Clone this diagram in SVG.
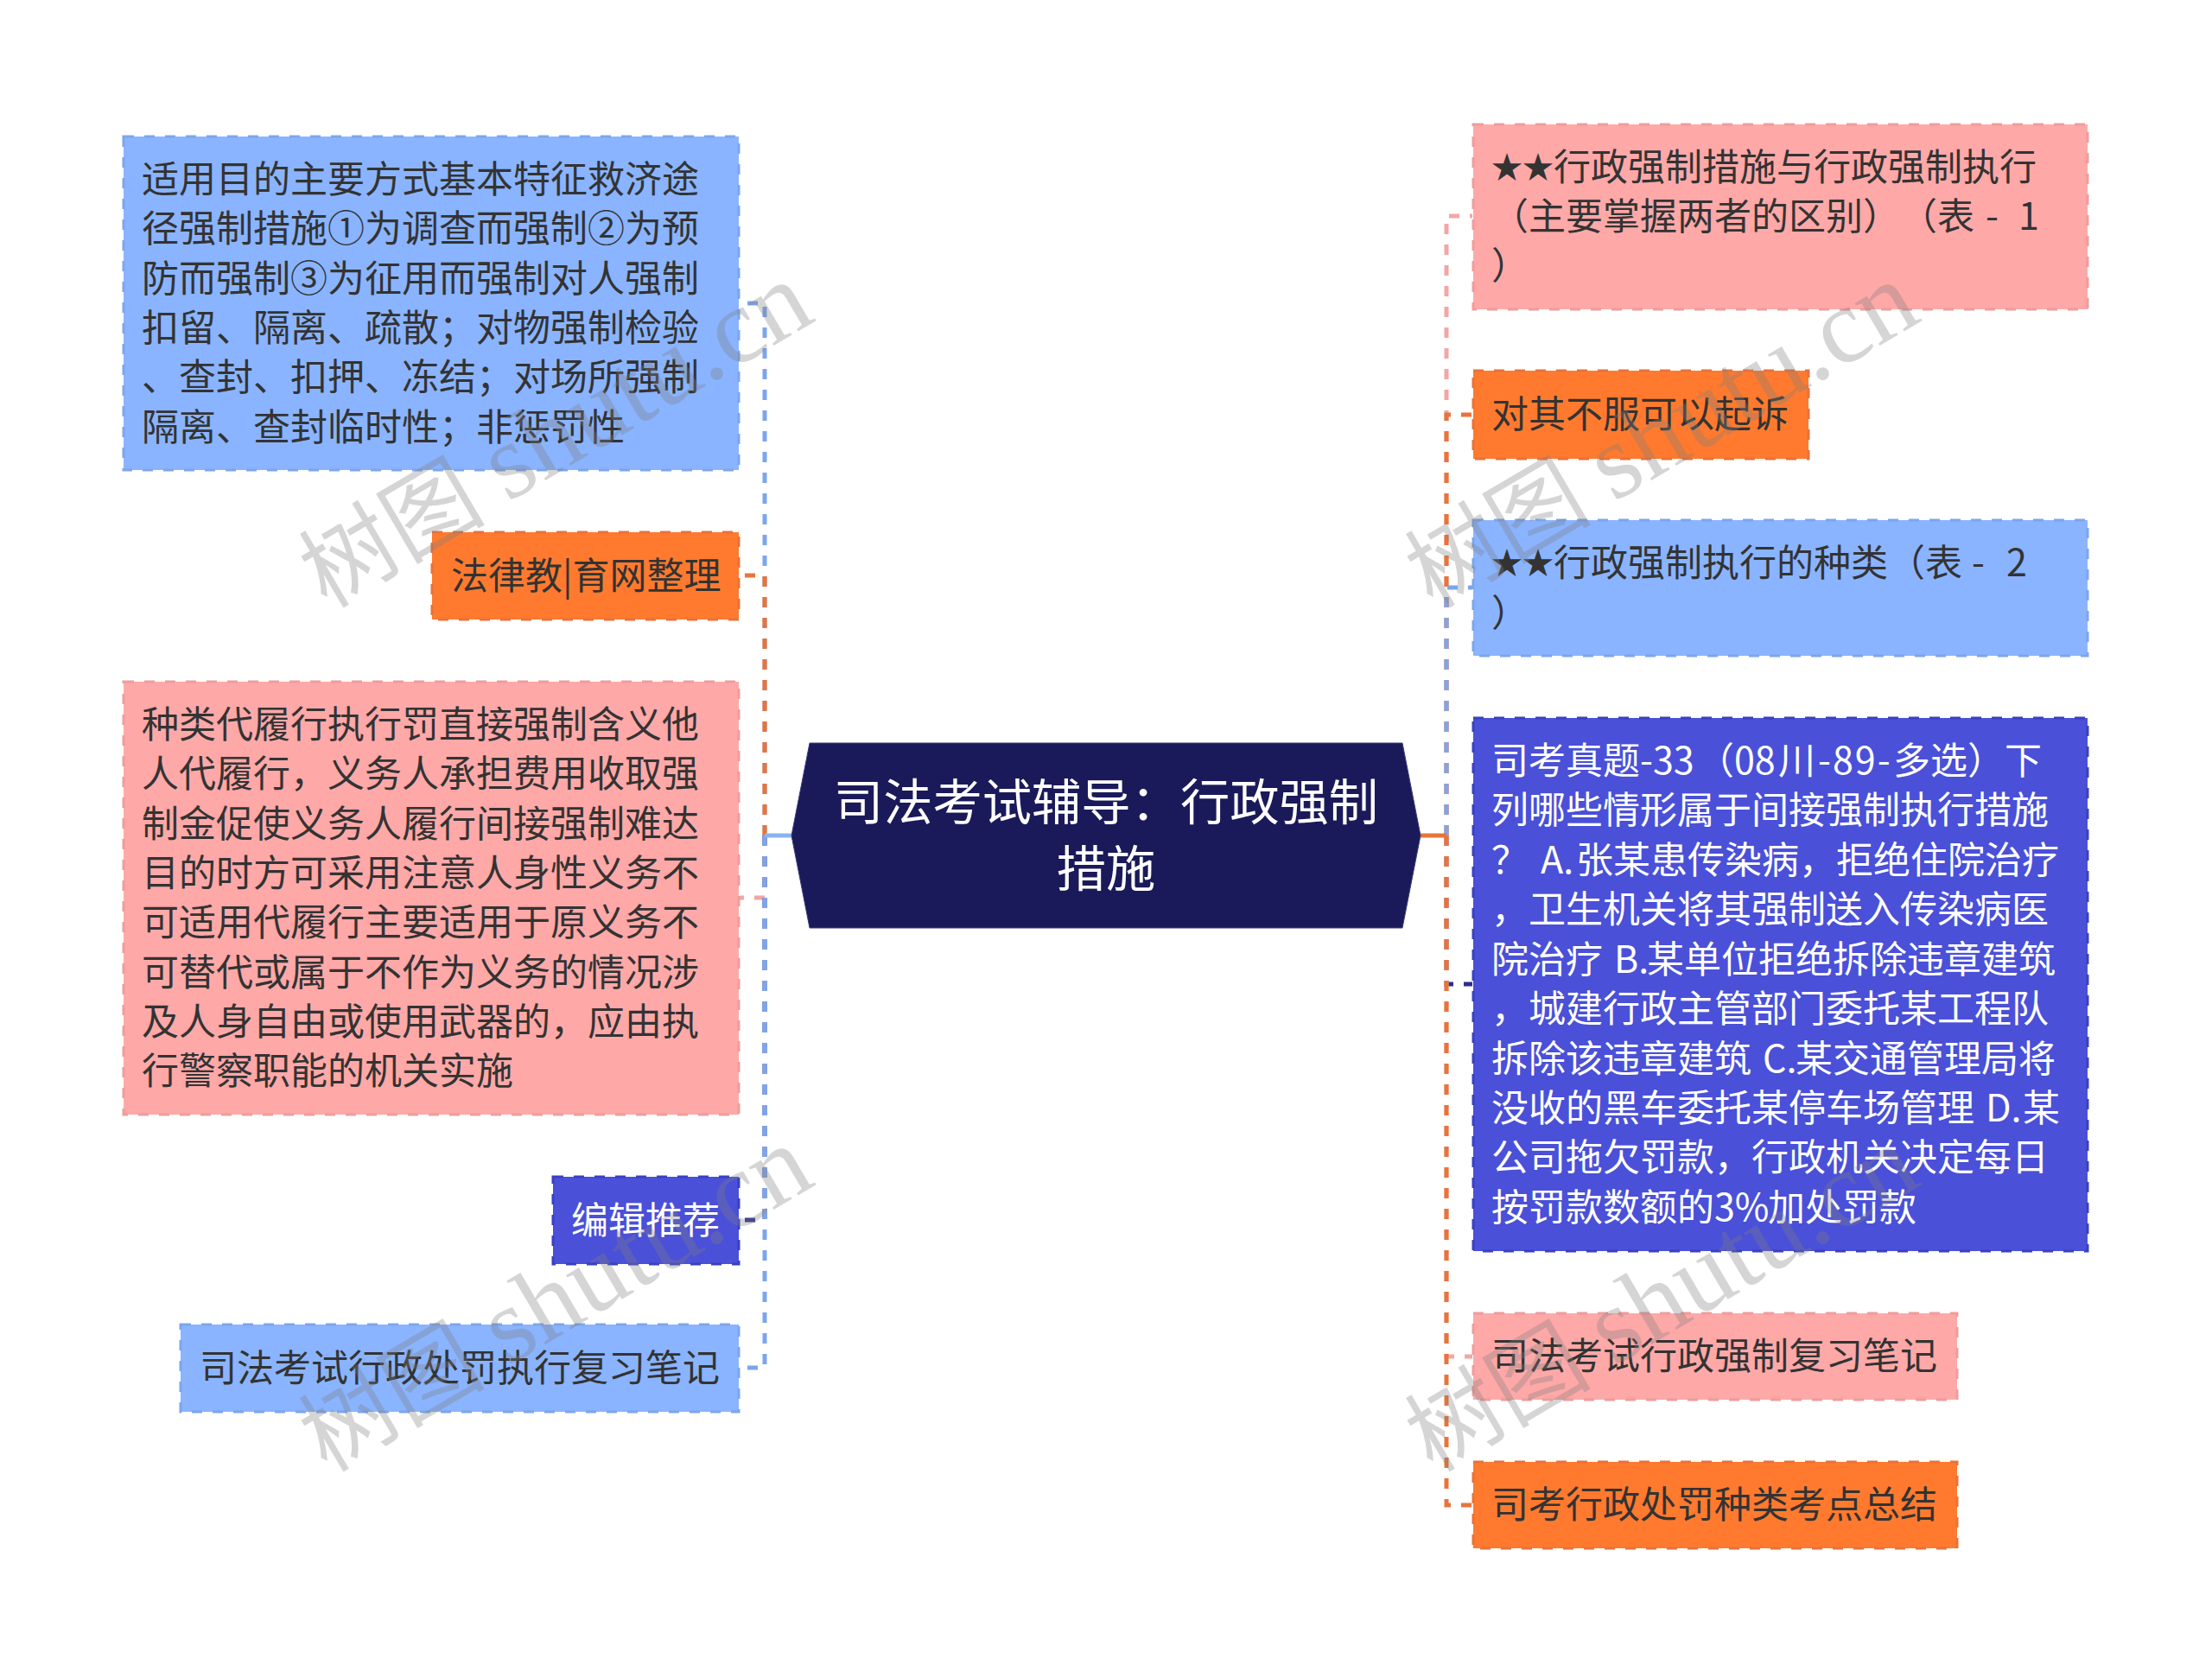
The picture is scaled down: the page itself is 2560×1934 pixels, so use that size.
<svg xmlns="http://www.w3.org/2000/svg" width="2560" height="1934" viewBox="0 0 2560 1934">
<style>
text{font-family:"Noto Sans CJK SC","Noto Sans",sans-serif;font-size:43px;fill:#333;text-spacing-trim:space-all}
.w{fill:#fff}
.star{font-size:36px}
.box{stroke-width:3;stroke-dasharray:12 12}
.blue{fill:#8AB4FF;stroke:#7CA6EC}
.pink{fill:#FFA8A8;stroke:#F09C9C}
.orange{fill:#FF7A2E;stroke:#E8723A}
.dark{fill:#4A50D8;stroke:#3A40C0}
.c{fill:none;stroke-width:5;stroke-dasharray:12 12}
.s{fill:none;stroke-width:5}
.t{font-size:57.3px;fill:#fff}
.wm{font-family:"Liberation Serif","Noto Sans CJK SC",serif;font-size:108px;fill:#808080;fill-opacity:.33}
.wl{font-size:124px}
</style>
<rect width="2560" height="1934" fill="#fff"/>
<g id="connectors">
<path class="c" stroke="#7CA6EC" d="M885 967V351H856"/>
<path class="c" stroke="#E8743A" d="M885 967V666H856"/>
<path class="c" stroke="#F4A6A6" d="M885 967V1039H856"/>
<path class="c" stroke="#2B2F90" d="M885 967V1412H856"/>
<path class="c" stroke="#7CA6EC" d="M885 967V1583H856"/>
<path class="c" stroke="#F4A6A6" d="M1674 967V250H1704"/>
<path class="c" stroke="#E8743A" d="M1674 967V480H1704"/>
<path class="c" stroke="#7CA6EC" d="M1674 967V680H1704"/>
<path class="c" stroke="#2B2F90" d="M1674 967V1139H1704"/>
<path class="c" stroke="#F4A6A6" d="M1674 967V1570H1704"/>
<path class="c" stroke="#E8743A" d="M1674 967V1742H1704"/>
<path class="s" stroke="#8AB4F0" d="M916 967H885"/>
<path class="s" stroke="#E8743A" d="M1644 967H1674"/>
</g>
<g id="center">
<polygon points="916,967 937,860 1623,860 1644,967 1623,1074 937,1074" fill="#1A1A5A" stroke="#3A3A78" stroke-width="1"/>
<text class="t" x="1280" y="949" text-anchor="middle">司法考试辅导：行政强制</text>
<text class="t" x="1280" y="1026" text-anchor="middle">措施</text>
</g>
<g id="node-l1">
<rect class="box blue" x="143" y="158" width="712" height="386"/>
<text x="164" y="223">适用目的主要方式基本特征救济途</text>
<text x="164" y="280">径强制措施①为调查而强制②为预</text>
<text x="164" y="338">防而强制③为征用而强制对人强制</text>
<text x="164" y="395">扣留、隔离、疏散；对物强制检验</text>
<text x="164" y="452">、查封、扣押、冻结；对场所强制</text>
<text x="164" y="510">隔离、查封临时性；非惩罚性</text>
</g>
<g id="node-l2">
<rect class="box orange" x="500" y="616" width="355" height="101"/>
<text x="522" y="682">法律教|育网整理</text>
</g>
<g id="node-l3">
<rect class="box pink" x="143" y="789" width="712" height="501"/>
<text x="164" y="854">种类代履行执行罚直接强制含义他</text>
<text x="164" y="911">人代履行，义务人承担费用收取强</text>
<text x="164" y="969">制金促使义务人履行间接强制难达</text>
<text x="164" y="1026">目的时方可采用注意人身性义务不</text>
<text x="164" y="1083">可适用代履行主要适用于原义务不</text>
<text x="164" y="1141">可替代或属于不作为义务的情况涉</text>
<text x="164" y="1198">及人身自由或使用武器的，应由执</text>
<text x="164" y="1255">行警察职能的机关实施</text>
</g>
<g id="node-l4">
<rect class="box dark" x="640" y="1362" width="215" height="101"/>
<text class="w" x="661" y="1428">编辑推荐</text>
</g>
<g id="node-l5">
<rect class="box blue" x="209" y="1533" width="646" height="101"/>
<text x="231" y="1599">司法考试行政处罚执行复习笔记</text>
</g>
<g id="node-r1">
<rect class="box pink" x="1705" y="144" width="711" height="214"/>
<text x="1726" y="207"><tspan class="star">★★</tspan><tspan x="1798" y="209">行政强制措施与行政强制执行</tspan></text>
<text x="1726" y="266">（主要掌握两者的区别）<tspan x="2199">（表</tspan> <tspan x="2298">-</tspan> <tspan x="2336">1</tspan></text>
<text x="1726" y="323">）</text>
</g>
<g id="node-r2">
<rect class="box orange" x="1705" y="429" width="388" height="102"/>
<text x="1726" y="495">对其不服可以起诉</text>
</g>
<g id="node-r3">
<rect class="box blue" x="1705" y="602" width="711" height="157"/>
<text x="1726" y="665"><tspan class="star">★★</tspan><tspan x="1798" y="667">行政强制执行的种类（表</tspan> <tspan x="2282">-</tspan> <tspan x="2322">2</tspan></text>
<text x="1726" y="725">）</text>
</g>
<g id="node-r4">
<rect class="box dark" x="1705" y="831" width="711" height="617"/>
<text class="w" x="1726" y="896">司考真题-33<tspan x="1964">（08</tspan><tspan x="2058">川</tspan><tspan x="2104" letter-spacing="2">-89-</tspan><tspan x="2191">多选）下</tspan></text>
<text class="w" x="1726" y="953">列哪些情形属于间接强制执行措施</text>
<text class="w" x="1726" y="1011">？ <tspan x="1783">A.</tspan><tspan x="1824">张某患传染病，拒绝住院治疗</tspan></text>
<text class="w" x="1726" y="1068">，卫生机关将其强制送入传染病医</text>
<text class="w" x="1726" y="1126">院治疗 <tspan x="1868">B.</tspan><tspan x="1906">某单位拒绝拆除违章建筑</tspan></text>
<text class="w" x="1726" y="1183">，城建行政主管部门委托某工程队</text>
<text class="w" x="1726" y="1241">拆除该违章建筑 <tspan x="2040">C.</tspan><tspan x="2078">某交通管理局将</tspan></text>
<text class="w" x="1726" y="1298">没收的黑车委托某停车场管理 <tspan x="2298">D.</tspan><tspan x="2341">某</tspan></text>
<text class="w" x="1726" y="1355">公司拖欠罚款，行政机关决定每日</text>
<text class="w" x="1726" y="1413">按罚款数额的3%<tspan x="2046">加处罚款</tspan></text>
</g>
<g id="node-r5">
<rect class="box pink" x="1705" y="1520" width="560" height="100"/>
<text x="1726" y="1585">司法考试行政强制复习笔记</text>
</g>
<g id="node-r6">
<rect class="box orange" x="1705" y="1692" width="560" height="100"/>
<text x="1726" y="1757">司考行政处罚种类考点总结</text>
</g>
<g id="watermarks">
<text class="wm" transform="translate(378 705) rotate(-30.5)">树图 <tspan class="wl">shutu.cn</tspan></text>
<text class="wm" transform="translate(1658 705) rotate(-30.5)">树图 <tspan class="wl">shutu.cn</tspan></text>
<text class="wm" transform="translate(378 1705) rotate(-30.5)">树图 <tspan class="wl">shutu.cn</tspan></text>
<text class="wm" transform="translate(1658 1705) rotate(-30.5)">树图 <tspan class="wl">shutu.cn</tspan></text>
</g>
</svg>
